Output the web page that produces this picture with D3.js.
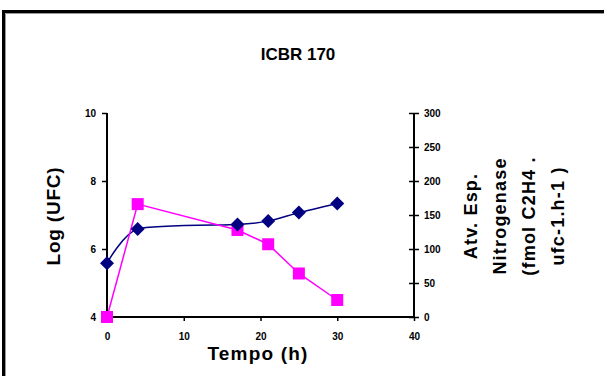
<!DOCTYPE html>
<html>
<head>
<meta charset="utf-8">
<script src="https://cdn.jsdelivr.net/npm/d3@7"></script>
<style>
  body { margin: 0; background: #fff; }
  svg { display: block; font-family: "Liberation Sans", Arial, sans-serif; }
</style>
</head>
<body>
<div id="chart"></div>
<script>
const title = 'ICBR 170';
const tempo = [0, 4, 17, 21, 25, 30];
const logUfc = [5.58, 6.59, 6.72, 6.82, 7.07, 7.34];
const nitrogenase = [0, 166, 128, 107, 64, 25];
const xTicks = [0, 10, 20, 30, 40];
const yLeftTicks = [4, 6, 8, 10];
const yRightTicks = [0, 50, 100, 150, 200, 250, 300];
const rightTitle = ['Atv. Esp.', 'Nitrogenase', '(fmol C2H4 .', 'ufc-1.h-1 )'];

const W = 604, H = 376;
const m = { t: 113, r: 190, b: 59, l: 107 };
const svg = d3.select('#chart').append('svg').attr('width', W).attr('height', H);

// frame
svg.append('path').attr('d', `M3.5,${H} V11.5 H${W}`)
  .attr('fill', 'none').attr('stroke', '#000').attr('stroke-width', 3);
svg.append('path').attr('d', `M5.5,${H} V13.5 H${W}`)
  .attr('fill', 'none').attr('stroke', '#999').attr('stroke-width', 1);

const x = d3.scaleLinear().domain([0, 40]).range([m.l, W - m.r]);
const yL = d3.scaleLinear().domain([4, 10]).range([H - m.b, m.t]);
const yR = d3.scaleLinear().domain([0, 300]).range([H - m.b, m.t]);

const tickFont = g => g.selectAll('text').attr('font-size', 10).attr('font-weight', 'bold').attr('fill', '#000');

const gx = svg.append('g').attr('transform', `translate(0,${H - m.b})`)
  .call(d3.axisBottom(x).tickValues(xTicks).tickFormat(d3.format('d')).tickSize(4).tickPadding(12));
gx.select('.domain').attr('stroke-width', 2).attr('d', `M${x(0)},0H${x(40)}`);
gx.call(tickFont);

const gl = svg.append('g').attr('transform', `translate(${m.l},0)`)
  .call(d3.axisLeft(yL).tickValues(yLeftTicks).tickFormat(d3.format('d')).tickSize(5).tickPadding(6));
gl.select('.domain').attr('stroke-width', 2).attr('d', `M0,${yL(10)}V${yL(4)}`);
gl.call(tickFont);

const gr = svg.append('g').attr('transform', `translate(${x(40)},0)`)
  .call(d3.axisRight(yR).tickValues(yRightTicks).tickFormat(d3.format('d')).tickSize(5).tickPadding(5));
gr.select('.domain').attr('stroke-width', 2).attr('d', `M0,${yR(300)}V${yR(0)}`);
gr.selectAll('.tick line').attr('x1', -5);
gr.call(tickFont);
svg.selectAll('.tick line').attr('stroke-width', 1.5);

// blue smoothed series
const lineL = d3.line().x((d, i) => x(tempo[i])).y(d => yL(d)).curve(d3.curveCardinal.tension(0.35));
svg.append('path').attr('d', lineL(logUfc)).attr('fill', 'none').attr('stroke', '#000080').attr('stroke-width', 1.5);

// magenta series
const lineR = d3.line().x((d, i) => x(tempo[i])).y(d => yR(d));
svg.append('path').attr('d', lineR(nitrogenase)).attr('fill', 'none').attr('stroke', '#ff00ff').attr('stroke-width', 1.5);

svg.selectAll('.sq').data(nitrogenase).enter().append('rect')
  .attr('x', (d, i) => x(tempo[i]) - 6).attr('y', d => yR(d) - 6)
  .attr('width', 12).attr('height', 12).attr('fill', '#ff00ff');

svg.selectAll('.dm').data(logUfc).enter().append('path')
  .attr('transform', (d, i) => `translate(${x(tempo[i])},${yL(d)})`)
  .attr('d', 'M0,-7L7,0L0,7L-7,0Z').attr('fill', '#000080');

// titles
svg.append('text').attr('x', 298).attr('y', 60).attr('text-anchor', 'middle')
  .attr('font-size', 17).attr('font-weight', 'bold').text(title);

svg.append('text').attr('x', 258).attr('y', 360).attr('text-anchor', 'middle')
  .attr('font-size', 19).attr('font-weight', 'bold').attr('letter-spacing', 1.2).text('Tempo (h)');

svg.append('text').attr('transform', 'translate(60,216) rotate(-90)').attr('text-anchor', 'middle')
  .attr('font-size', 19).attr('font-weight', 'bold').attr('letter-spacing', 0.8).text('Log (UFC)');

const rt = svg.append('text').attr('transform', 'translate(477,216) rotate(-90)')
  .attr('text-anchor', 'middle').attr('font-size', 18).attr('font-weight', 'bold').attr('letter-spacing', 1.2);
rightTitle.forEach((s, i) => rt.append('tspan').attr('x', 0).attr('y', i * 29).text(s));
</script>
</body>
</html>
